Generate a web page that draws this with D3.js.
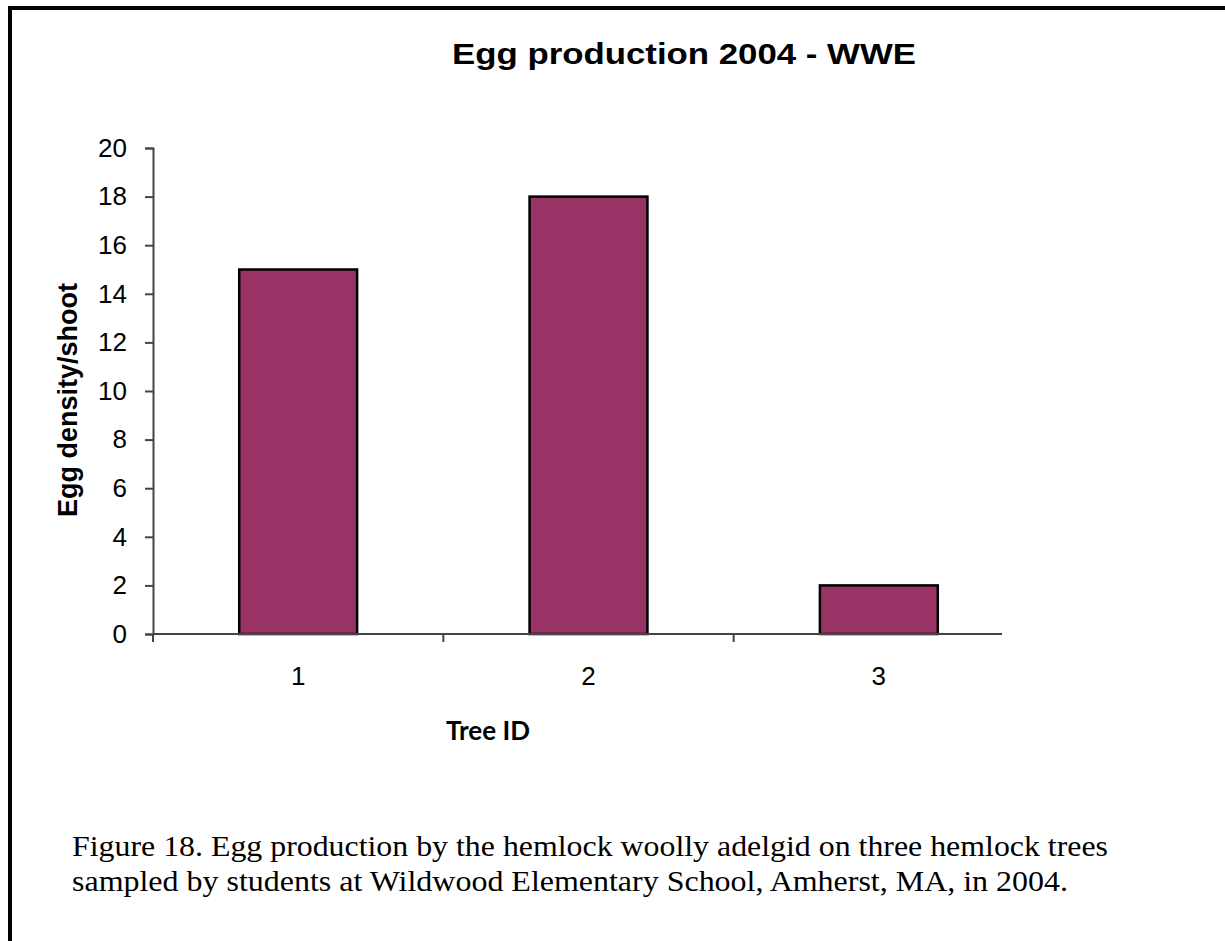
<!DOCTYPE html>
<html>
<head>
<meta charset="utf-8">
<script src="https://cdn.jsdelivr.net/npm/d3@7"></script>
<style>
  body { margin: 0; background: #fff; }
  #chart { width: 1225px; height: 941px; }
</style>
</head>
<body>
<div id="chart"></div>
<script>
/*------Data: egg density per shoot for each tree------*/

var treeIds = ["1", "2", "3"];
var eggDensity = [15, 18, 2];
var yTicks = [0, 2, 4, 6, 8, 10, 12, 14, 16, 18, 20];

var titleText = "Egg production 2004 - WWE";
var yLabel = "Egg density/shoot";
var xLabel = "Tree ID";
var caption = [
  "Figure 18. Egg production by the hemlock woolly adelgid on three hemlock trees",
  "sampled by students at Wildwood Elementary School, Amherst, MA, in 2004."
];
var captionWidths = [1036, 996];

/*------Svg canvas------*/

var width = 1225;
var height = 941;

var svg = d3.select("#chart")
  .append("svg")
  .attr("width", width)
  .attr("height", height);

// frame round the figure (right and bottom fall off the picture)
svg.append("rect")
  .attr("x", 10)
  .attr("y", 8)
  .attr("width", width + 20)
  .attr("height", height + 20)
  .attr("fill", "none")
  .attr("stroke", "#000")
  .attr("stroke-width", 4);

/*------Scales------*/

var y = d3.scaleLinear()
  .domain([0, 20])
  .range([634, 148]);

var x = d3.scaleBand()
  .domain(treeIds)
  .range([153, 1024]);

var barFrac = 0.406;

/*------Y axis------*/

var yAxis = d3.axisLeft(y)
  .tickValues(yTicks)
  .tickSize(8)
  .tickPadding(18);

var gy = svg.append("g")
  .attr("transform", "translate(153,0)")
  .call(yAxis);

gy.select(".domain").attr("stroke", "#444").attr("stroke-width", 2);
gy.selectAll(".tick line").attr("stroke", "#444").attr("stroke-width", 2);
gy.selectAll(".tick text")
  .attr("fill", "#000")
  .style("font-family", "'Liberation Sans', Arial, sans-serif")
  .style("font-size", "26px");

/*------Bars------*/

svg.selectAll("rect.bar")
  .data(treeIds)
  .enter()
  .append("rect")
    .attr("class", "bar")
    .attr("x", function(d) { return x(d) + x.bandwidth() * (1 - barFrac) / 2; })
    .attr("width", x.bandwidth() * barFrac)
    .attr("y", function(d, i) { return y(eggDensity[i]); })
    .attr("height", function(d, i) { return y(0) - y(eggDensity[i]); })
    .attr("fill", "#993366")
    .attr("stroke", "#000")
    .attr("stroke-width", 2.5);

/*------X axis------*/

svg.append("line")
  .attr("x1", 153)
  .attr("x2", 1002)
  .attr("y1", y(0))
  .attr("y2", y(0))
  .attr("stroke", "#444")
  .attr("stroke-width", 2);

svg.selectAll("line.xtick")
  .data(treeIds)
  .enter()
  .append("line")
    .attr("class", "xtick")
    .attr("x1", function(d) { return x(d); })
    .attr("x2", function(d) { return x(d); })
    .attr("y1", y(0))
    .attr("y2", y(0) + 8)
    .attr("stroke", "#444")
    .attr("stroke-width", 2);

var xAxis = d3.axisBottom(x)
  .tickSize(0)
  .tickPadding(33);

var gx = svg.append("g")
  .attr("transform", "translate(0," + y(0) + ")")
  .call(xAxis);

gx.select(".domain").remove();
gx.selectAll(".tick text")
  .attr("fill", "#000")
  .style("font-family", "'Liberation Sans', Arial, sans-serif")
  .style("font-size", "26px");

/*------Titles------*/

svg.append("text")
  .attr("x", 684)
  .attr("y", 64)
  .attr("text-anchor", "middle")
  .style("font-family", "'Liberation Sans', Arial, sans-serif")
  .style("font-weight", "bold")
  .style("font-size", "30px")
  .attr("textLength", 464)
  .attr("lengthAdjust", "spacingAndGlyphs")
  .text(titleText);

svg.append("text")
  .attr("transform", "translate(77,400) rotate(-90)")
  .attr("text-anchor", "middle")
  .style("font-family", "'Liberation Sans', Arial, sans-serif")
  .style("font-weight", "bold")
  .style("font-size", "27px")
  .text(yLabel);

svg.append("text")
  .attr("x", 488)
  .attr("y", 740)
  .attr("text-anchor", "middle")
  .style("font-family", "Lato, 'Open Sans', sans-serif")
  .style("font-weight", "bold")
  .style("font-size", "26px")
  .text(xLabel);

/*------Caption------*/

svg.selectAll("text.caption")
  .data(caption)
  .enter()
  .append("text")
    .attr("class", "caption")
    .attr("x", 72)
    .attr("y", function(d, i) { return 856 + i * 35; })
    .attr("textLength", function(d, i) { return captionWidths[i]; })
    .attr("lengthAdjust", "spacingAndGlyphs")
    .style("font-family", "'Liberation Serif', 'Times New Roman', serif")
    .style("font-size", "29px")
    .text(function(d) { return d; });
</script>
</body>
</html>
